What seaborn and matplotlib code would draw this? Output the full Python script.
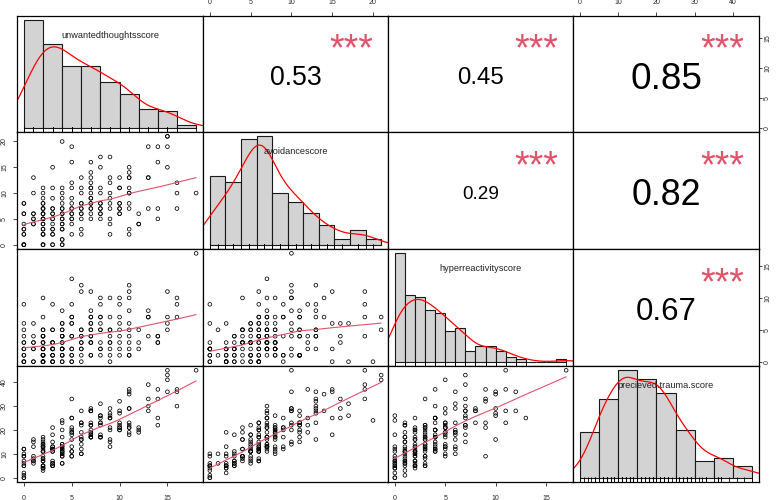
import numpy as np
import pandas as pd
import matplotlib
matplotlib.use('Agg')
import matplotlib.pyplot as plt
import seaborn as sns

sns.set_style('white')
plt.rcParams['font.family'] = ['Liberation Sans', 'DejaVu Sans']

# scores per respondent (one line per unwanted-thoughts value)
unwanted = [
    0, 0, 0, 0, 0, 0, 0, 0, 0, 0, 0, 0, 0,
    1, 1, 1, 1, 1, 1, 1, 1,
    2, 2, 2, 2, 2, 2, 2, 2, 2, 2, 2, 2, 2, 2, 2, 2, 2, 2, 2, 2, 2, 2, 2, 2,
    3, 3, 3, 3, 3, 3, 3, 3, 3, 3, 3, 3, 3, 3, 3, 3,
    4, 4, 4, 4, 4, 4, 4, 4, 4, 4, 4, 4, 4, 4, 4, 4, 4, 4, 4,
    5, 5, 5, 5, 5, 5, 5, 5, 5, 5, 5, 5, 5, 5,
    6, 6, 6, 6, 6, 6, 6, 6, 6, 6, 6, 6,
    7, 7, 7, 7, 7, 7, 7, 7, 7, 7, 7, 7, 7, 7, 7,
    8, 8, 8, 8, 8, 8, 8, 8, 8, 8, 8,
    9, 9, 9, 9, 9, 9, 9, 9, 9, 9,
    10, 10, 10, 10, 10, 10, 10, 10, 10,
    11, 11, 11, 11, 11, 11, 11, 11, 11, 11, 11,
    12, 12, 12,
    13, 13, 13, 13,
    14, 14, 14, 14,
    15, 15, 15, 15,
    16, 16, 16,
    18,
]
avoidance = [
    0, 0, 0, 0, 2, 2, 3, 3, 4, 6, 6, 8, 8,
    13, 10, 6, 6, 5, 5, 4, 4,
    0, 0, 0, 2, 2, 2, 3, 3, 4, 4, 5, 5, 5, 6, 6, 6, 7, 7, 7, 8, 8, 9, 10, 11,
    0, 0, 2, 2, 3, 3, 4, 5, 5, 6, 6, 7, 7, 9, 11, 15,
    0, 0, 1, 1, 3, 3, 4, 4, 5, 5, 6, 6, 7, 7, 8, 9, 10, 11, 20,
    2, 4, 5, 5, 6, 6, 7, 7, 8, 9, 11, 12, 16, 19,
    2, 3, 5, 6, 6, 7, 7, 8, 8, 10, 11, 13,
    5, 6, 7, 7, 8, 8, 9, 9, 10, 11, 11, 12, 13, 14, 16,
    5, 6, 6, 7, 7, 8, 8, 10, 11, 15, 17,
    2, 4, 5, 7, 8, 9, 10, 12, 13, 17,
    6, 6, 7, 7, 8, 8, 11, 11, 13,
    2, 3, 7, 8, 10, 10, 11, 13, 13, 14, 15,
    6, 4, 4,
    19, 13, 13, 7,
    19, 16, 7, 5,
    21, 21, 19, 15,
    12, 10, 7,
    10,
]
hyper = [
    9, 0, 1, 0, 3, 0, 2, 3, 5, 6, 1, 4, 2,
    2, 4, 6, 0, 3, 0, 3, 2,
    2, 3, 1, 0, 1, 0, 0, 2, 10, 3, 4, 1, 0, 5, 7, 0, 4, 2, 5, 3, 1, 1, 2, 4,
    2, 2, 0, 1, 0, 1, 5, 3, 5, 2, 3, 2, 3, 9, 1, 0,
    6, 2, 5, 1, 4, 2, 4, 1, 3, 2, 4, 1, 2, 3, 5, 0, 6, 8, 0,
    2, 0, 1, 6, 0, 7, 13, 1, 6, 7, 4, 2, 4, 9,
    2, 1, 3, 11, 0, 4, 3, 2, 5, 12, 5, 4,
    6, 4, 3, 5, 3, 7, 1, 4, 11, 1, 5, 3, 8, 7, 6,
    5, 3, 9, 2, 7, 1, 10, 5, 7, 2, 6,
    2, 3, 1, 5, 3, 7, 10, 4, 5, 0,
    4, 5, 10, 6, 3, 2, 7, 1, 9,
    6, 4, 3, 2, 1, 8, 1, 5, 12, 10, 11,
    2, 3, 5,
    7, 7, 4, 8,
    4, 3, 4, 3,
    7, 5, 11, 6,
    9, 10, 7,
    17,
]
trauma = [
    9, 0, 1, 0, 5, 2, 5, 6, 9, 12, 7, 12, 10,
    16, 15, 13, 7, 9, 6, 8, 7,
    4, 5, 3, 4, 5, 4, 5, 7, 16, 9, 11, 8, 7, 13, 15, 8, 13, 11, 14, 13, 11, 12, 14, 17,
    5, 5, 5, 6, 6, 7, 12, 11, 13, 11, 12, 12, 13, 21, 15, 18,
    10, 6, 10, 6, 11, 9, 12, 9, 12, 11, 14, 11, 13, 14, 17, 13, 20, 23, 24,
    9, 9, 11, 16, 11, 18, 25, 13, 19, 21, 20, 19, 25, 33,
    10, 10, 14, 23, 12, 17, 16, 16, 19, 28, 22, 23,
    18, 17, 17, 19, 18, 22, 17, 20, 28, 19, 23, 22, 28, 28, 29,
    18, 17, 23, 17, 22, 17, 26, 23, 26, 25, 31,
    13, 16, 15, 21, 20, 25, 29, 25, 27, 26,
    20, 21, 27, 23, 21, 20, 28, 22, 32,
    19, 18, 21, 21, 22, 29, 23, 29, 36, 35, 37,
    20, 19, 21,
    39, 33, 30, 28,
    37, 33, 25, 22,
    43, 41, 45, 36,
    37, 36, 30,
    45,
]

labels = ['unwantedthoughtsscore', 'avoidancescore',
          'hyperreactivityscore', 'precieved.trauma.score']
# correlations and stars as printed in the upper panels (row, col order)
corr_shown = [0.53, 0.45, 0.85, 0.29, 0.82, 0.67]
stars_shown = ['***', '***', '***', '***', '***', '***']
bin_width = [2, 2, 1, 5]
tick_step = [5, 5, 5, 10]

df = pd.DataFrame({labels[0]: unwanted, labels[1]: avoidance,
                   labels[2]: hyper, labels[3]: trauma})


def lowess(x, y, f=2 / 3, iters=3):
    order = np.argsort(x, kind='mergesort')
    x = np.asarray(x, float)[order]
    y = np.asarray(y, float)[order]
    n = len(x)
    k = int(np.ceil(f * n))
    rw = np.ones(n)
    fit = np.zeros(n)
    for _ in range(iters + 1):
        for i in range(n):
            d = np.abs(x - x[i])
            h = max(np.sort(d)[k - 1], 1e-9)
            w = (1 - np.clip(d / h, 0, 1) ** 3) ** 3 * rw
            sw = w.sum()
            xm = (w * x).sum() / sw
            ym = (w * y).sum() / sw
            vx = (w * (x - xm) ** 2).sum()
            b = (w * (x - xm) * (y - ym)).sum() / vx if vx > 1e-12 else 0.0
            fit[i] = ym + b * (x[i] - xm)
        res = y - fit
        s = np.median(np.abs(res))
        if s < 1e-9:
            break
        u = np.clip(res / (6 * s), -1, 1)
        rw = (1 - u ** 2) ** 2
    return x, fit


def padded(lo, hi):
    r = hi - lo
    return lo - 0.04 * r, hi + 0.04 * r


W, H = 777, 500
col_px = [17, 203, 388, 573, 759]
row_px = [16, 132, 249, 366, 482]

fig = plt.figure(figsize=(W / 100, H / 100), dpi=100)
cols = list(df.columns)
pair_idx = 0
for i in range(4):
    for j in range(4):
        x0 = col_px[j] / W
        w = (col_px[j + 1] - col_px[j]) / W
        y0 = 1 - row_px[i + 1] / H
        h = (row_px[i + 1] - row_px[i]) / H
        ax = fig.add_axes([x0, y0, w, h])
        xv = df[cols[j]].to_numpy()
        yv = df[cols[i]].to_numpy()

        if i == j:
            bw = bin_width[i]
            top = np.ceil(xv.max() / bw) * bw
            edges = np.arange(0, top + bw / 2, bw).astype(float)
            # R's hist bins are right-closed
            shifted = edges + 1e-6
            shifted[0] = edges[0] - 1e-6
            sns.histplot(x=xv, bins=shifted, stat='density', color='#D3D3D3',
                         edgecolor='#1a1a1a', linewidth=0.8, alpha=1, ax=ax)
            sd = xv.std(ddof=1)
            q75, q25 = np.percentile(xv, [75, 25])
            adj = 0.9 * min(sd, (q75 - q25) / 1.34) / sd
            sns.kdeplot(x=xv, bw_adjust=adj * 1.1, cut=3, color='red',
                        linewidth=0.9, ax=ax)
            sns.rugplot(x=xv, height=0.04, color='black', linewidth=0.6, ax=ax)
            dens, _ = np.histogram(xv, bins=shifted, density=True)
            ax.set_xlim(*padded(edges[0], edges[-1]))
            ax.set_ylim(*padded(0, dens.max()))
            ax.text(0.5, 0.8333, labels[i], transform=ax.transAxes,
                    ha='center', va='center', fontsize=6.6, color='#222222',
                    zorder=5)
        elif i > j:
            sns.scatterplot(x=xv, y=yv, marker='o', s=7, facecolor='none',
                            edgecolor='black', linewidth=0.55, ax=ax,
                            legend=False)
            lx, ly = lowess(xv, yv)
            ax.plot(lx, ly, color='#DF536B', linewidth=0.8)
            ax.set_xlim(*padded(xv.min(), xv.max()))
            ax.set_ylim(*padded(yv.min(), yv.max()))
        else:
            r = corr_shown[pair_idx]
            fs = 30 * (abs(r) + 0.3) / 1.3
            ax.annotate(f'{r:.2f}', xy=(0.5, 0.5), xycoords='axes fraction',
                        xytext=(0, -0.358 * fs - 1), textcoords='offset points',
                        ha='center', va='baseline', fontsize=fs, color='black')
            ax.annotate(stars_shown[pair_idx], xy=(0.8, 0.8),
                        xycoords='axes fraction',
                        xytext=(0, -0.56 * 27 - 0.4), textcoords='offset points',
                        ha='center', va='baseline', fontsize=27,
                        color='#DF536B')
            pair_idx += 1
            ax.set_xlim(*padded(xv.min(), xv.max()))
            ax.set_ylim(*padded(yv.min(), yv.max()))

        ax.set_xlabel('')
        ax.set_ylabel('')
        ax.set_xticks([])
        ax.set_yticks([])
        for sp in ax.spines.values():
            sp.set_visible(True)
            sp.set_color('black')
            sp.set_linewidth(0.9)

        # outer axes, alternating sides as in pairs()
        if i == 0 and j % 2 == 1:
            ax.set_xticks(np.arange(0, xv.max() + 1, tick_step[j]))
            ax.xaxis.tick_top()
            ax.tick_params(axis='x', length=3, width=0.6, pad=4.5, labelsize=5)
        if i == 3 and j % 2 == 0:
            ax.set_xticks(np.arange(0, xv.max() + 1, tick_step[j]))
            ax.xaxis.tick_bottom()
            ax.tick_params(axis='x', length=3, width=0.6, pad=6, labelsize=5)
        if j == 0 and i % 2 == 1:
            ax.set_yticks(np.arange(0, yv.max() + 1, tick_step[i]))
            ax.yaxis.tick_left()
            ax.tick_params(axis='y', length=3, width=0.6, pad=3.5, labelsize=5)
            for t in ax.get_yticklabels():
                t.set_rotation(90)
                t.set_va('center')
        if j == 3 and i % 2 == 0:
            ax.set_yticks(np.arange(0, yv.max() + 1, tick_step[i]))
            ax.yaxis.tick_right()
            ax.tick_params(axis='y', length=2.5, width=0.6, pad=1.2, labelsize=5)
            for t in ax.get_yticklabels():
                t.set_rotation(90)
                t.set_va('center')

fig.savefig('out.png', dpi=100)
plt.close(fig)
